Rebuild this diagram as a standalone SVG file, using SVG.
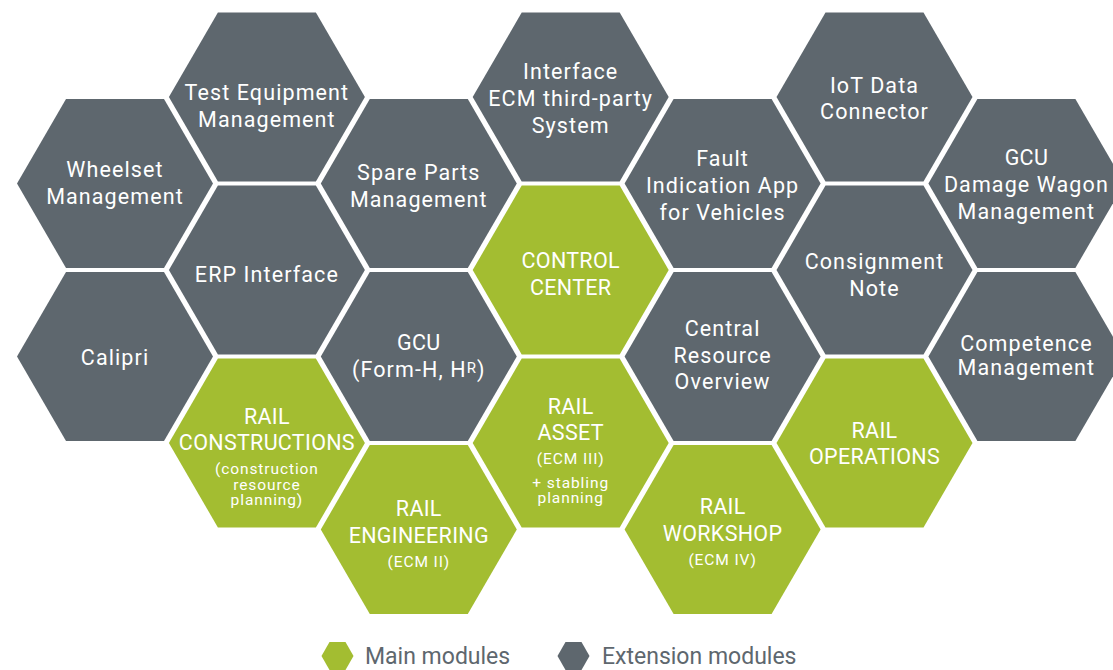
<svg xmlns="http://www.w3.org/2000/svg" xmlns:xlink="http://www.w3.org/1999/xlink" width="1113" height="670" viewBox="0 0 1113 670">
<style>
.ext{fill:#5e676e}
.main{fill:#a3bd31}
.t{font-family:Roboto,"Liberation Sans",sans-serif;font-size:21.5px;fill:#ffffff;text-anchor:middle;letter-spacing:0.3px}
.l{letter-spacing:1.1px}
.s{font-size:15.5px;letter-spacing:0.9px}
.lg{font-family:Roboto,"Liberation Sans",sans-serif;font-size:23px;fill:#5e676e}
</style>
<defs>
<polygon id="hex" points="-98,0 -49,-84.5 49,-84.5 98,0 49,84.5 -49,84.5"/>
<polygon id="hexs" points="-16,0 -8,-14 8,-14 16,0 8,14 -8,14"/>
</defs>
<rect width="1113" height="670" fill="#ffffff"/>
<g id="connectors"/>
<g id="wheelset"><use xlink:href="#hex" class="ext" x="115" y="183.5"/><text class="t"><tspan class="l" x="115" y="177">Wheelset</tspan><tspan class="l" x="115" y="204">Management</tspan></text></g>
<g id="calipri"><use xlink:href="#hex" class="ext" x="115" y="356.5"/><text class="t"><tspan class="l" x="115" y="365">Calipri</tspan></text></g>
<g id="test-equipment"><use xlink:href="#hex" class="ext" x="266.9" y="97"/><text class="t"><tspan class="l" x="266.9" y="99.5">Test Equipment</tspan><tspan class="l" x="266.9" y="126.5">Management</tspan></text></g>
<g id="erp-interface"><use xlink:href="#hex" class="ext" x="266.9" y="270"/><text class="t"><tspan class="l" x="266.9" y="281.5">ERP Interface</tspan></text></g>
<g id="rail-constructions"><use xlink:href="#hex" class="main" x="266.9" y="443"/><text class="t"><tspan x="266.9" y="423.5">RAIL</tspan><tspan x="266.9" y="449.5">CONSTRUCTIONS</tspan><tspan class="s" x="266.9" y="473.5">(construction</tspan><tspan class="s" x="266.9" y="489.5">resource</tspan><tspan class="s" x="266.9" y="505">planning)</tspan></text></g>
<g id="spare-parts"><use xlink:href="#hex" class="ext" x="418.8" y="183.5"/><text class="t"><tspan class="l" x="418.8" y="180">Spare Parts</tspan><tspan class="l" x="418.8" y="206.5">Management</tspan></text></g>
<g id="gcu-form-h"><use xlink:href="#hex" class="ext" x="418.8" y="356.5"/><text class="t"><tspan x="418.8" y="350">GCU</tspan><tspan class="l" x="418.8" y="377">(Form-H, H<tspan font-size="15" dy="-4">R</tspan><tspan dy="4">)</tspan></tspan></text></g>
<g id="rail-engineering"><use xlink:href="#hex" class="main" x="418.8" y="529.5"/><text class="t"><tspan x="418.8" y="516">RAIL</tspan><tspan x="418.8" y="542.5">ENGINEERING</tspan><tspan class="s" x="418.8" y="566.5">(ECM II)</tspan></text></g>
<g id="interface-ecm"><use xlink:href="#hex" class="ext" x="570.7" y="97"/><text class="t"><tspan class="l" x="570.7" y="78.5">Interface</tspan><tspan class="l" x="570.7" y="105.5">ECM third-party</tspan><tspan class="l" x="570.7" y="132.5">System</tspan></text></g>
<g id="control-center"><use xlink:href="#hex" class="main" x="570.7" y="270"/><text class="t"><tspan x="570.7" y="267.5">CONTROL</tspan><tspan x="570.7" y="294.5">CENTER</tspan></text></g>
<g id="rail-asset"><use xlink:href="#hex" class="main" x="570.7" y="443"/><text class="t"><tspan x="570.7" y="414">RAIL</tspan><tspan x="570.7" y="440">ASSET</tspan><tspan class="s" x="570.7" y="464">(ECM III)</tspan><tspan class="s" x="570.7" y="488">+ stabling</tspan><tspan class="s" x="570.7" y="503">planning</tspan></text></g>
<g id="fault-indication"><use xlink:href="#hex" class="ext" x="722.6" y="183.5"/><text class="t"><tspan class="l" x="722.6" y="166">Fault</tspan><tspan class="l" x="722.6" y="193">Indication App</tspan><tspan class="l" x="722.6" y="219.5">for Vehicles</tspan></text></g>
<g id="central-resource"><use xlink:href="#hex" class="ext" x="722.6" y="356.5"/><text class="t"><tspan class="l" x="722.6" y="336">Central</tspan><tspan class="l" x="722.6" y="362.5">Resource</tspan><tspan class="l" x="722.6" y="389">Overview</tspan></text></g>
<g id="rail-workshop"><use xlink:href="#hex" class="main" x="722.6" y="529.5"/><text class="t"><tspan x="722.6" y="513.5">RAIL</tspan><tspan x="722.6" y="540.5">WORKSHOP</tspan><tspan class="s" x="722.6" y="564.5">(ECM IV)</tspan></text></g>
<g id="iot-data"><use xlink:href="#hex" class="ext" x="874.5" y="97"/><text class="t"><tspan class="l" x="874.5" y="92.5">IoT Data</tspan><tspan class="l" x="874.5" y="118.5">Connector</tspan></text></g>
<g id="consignment-note"><use xlink:href="#hex" class="ext" x="874.5" y="270"/><text class="t"><tspan class="l" x="874.5" y="269">Consignment</tspan><tspan class="l" x="874.5" y="295.5">Note</tspan></text></g>
<g id="rail-operations"><use xlink:href="#hex" class="main" x="874.5" y="443"/><text class="t"><tspan x="874.5" y="438">RAIL</tspan><tspan x="874.5" y="464">OPERATIONS</tspan></text></g>
<g id="gcu-damage-wagon"><use xlink:href="#hex" class="ext" x="1026.4" y="183.5"/><text class="t"><tspan x="1026.4" y="165">GCU</tspan><tspan class="l" x="1026.4" y="192">Damage Wagon</tspan><tspan class="l" x="1026.4" y="218.5">Management</tspan></text></g>
<g id="competence"><use xlink:href="#hex" class="ext" x="1026.4" y="356.5"/><text class="t"><tspan class="l" x="1026.4" y="350.5">Competence</tspan><tspan class="l" x="1026.4" y="374.5">Management</tspan></text></g>
<g id="legend">
<use xlink:href="#hexs" class="main" x="337.5" y="656"/><text class="lg" x="365" y="663.5">Main modules</text>
<use xlink:href="#hexs" class="ext" x="573.5" y="656"/><text class="lg" x="602" y="663.5">Extension modules</text>
</g>
</svg>
